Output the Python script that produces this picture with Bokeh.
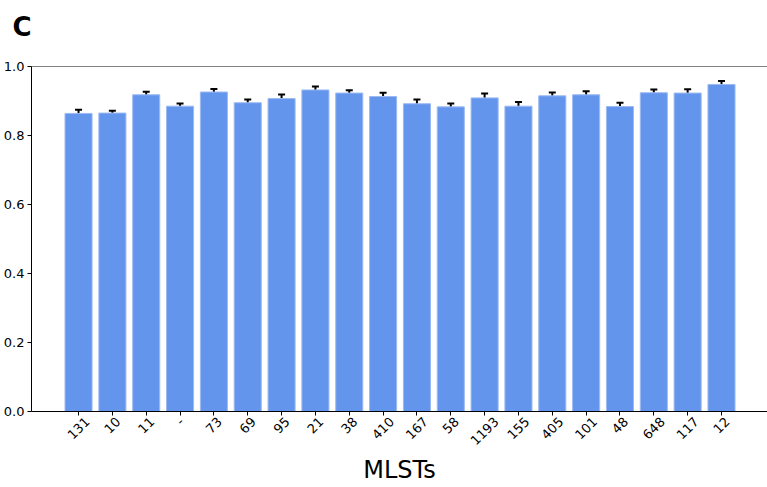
from math import pi
from bokeh.plotting import figure
from bokeh.models import (ColumnDataSource, Range1d, FixedTicker, Whisker, TeeHead,
                          LinearAxis, Title, Span)
from bokeh.embed import file_html
from bokeh.resources import INLINE

mlsts = ["131", "10", "11", "-", "73", "69", "95", "21", "38", "410",
         "167", "58", "1193", "155", "405", "101", "48", "648", "117", "12"]
scores = [0.864, 0.865, 0.918, 0.885, 0.926, 0.895, 0.907, 0.932, 0.923, 0.913,
          0.892, 0.883, 0.909, 0.885, 0.915, 0.918, 0.884, 0.924, 0.923, 0.948]
errors = [0.011, 0.007, 0.009, 0.008, 0.009, 0.009, 0.012, 0.010, 0.008, 0.011,
          0.012, 0.010, 0.013, 0.012, 0.010, 0.010, 0.011, 0.009, 0.011, 0.010]
y_ticks = [0.0, 0.2, 0.4, 0.6, 0.8, 1.0]
panel_letter = "C"
x_title = "MLSTs"

xs = list(range(len(mlsts)))
src = ColumnDataSource(dict(
    x=xs, top=scores,
    upper=[s + e for s, e in zip(scores, errors)],
    lower=[s - e for s, e in zip(scores, errors)],
))

FONT = "DejaVu Sans"
FS = 13
PX_PER_UNIT = 33.84
X0 = -0.4 - 0.05 * (len(xs) - 1 + 0.8)
X1 = X0 + 736 / PX_PER_UNIT

p = figure(width=767, height=487, output_backend="svg", toolbar_location=None,
           title=None, x_axis_location=None,
           x_range=Range1d(X0, X1), y_range=Range1d(0, 1.0),
           min_border_left=31, min_border_right=0, min_border_top=66, min_border_bottom=76)

p.vbar(x="x", top="top", width=0.8, source=src, fill_color="#6495ED",
       line_color="#9db9f2", line_width=1)
p.add_layout(Whisker(source=src, base="x", upper="upper", lower="lower",
                     line_color="black", line_width=2,
                     upper_head=TeeHead(size=7, line_color="black", line_width=2),
                     lower_head=TeeHead(size=7, line_color="black", line_width=2)))
# top spine
p.add_layout(Span(location=1.0, dimension="width", line_color="black", line_width=1.2))

p.xgrid.visible = False
p.ygrid.visible = False
p.outline_line_color = None

# invisible spacer above the frame, so the panel letter sits higher
spacer_axis = LinearAxis(ticker=FixedTicker(ticks=xs),
                         major_label_overrides={i: "" for i in xs},
                         major_label_standoff=0, major_label_text_font_size="1px",
                         axis_line_color=None, major_tick_line_color="white",
                         major_tick_out=22, major_tick_in=0,
                         minor_tick_line_color=None, minor_tick_out=0, minor_tick_in=0)
p.add_layout(spacer_axis, "above")
p.add_layout(Title(text=panel_letter, text_font=FONT, text_font_size="26px",
                   text_font_style="bold", text_color="black", align="left",
                   offset=-19, standoff=6), "above")

# bottom axis: tick marks + axis line, no labels
tick_axis = LinearAxis(ticker=FixedTicker(ticks=xs),
                       major_label_overrides={i: "" for i in xs},
                       major_label_standoff=0, axis_line_color="black",
                       major_tick_line_color="black", major_tick_out=4, major_tick_in=0,
                       minor_tick_line_color=None, minor_tick_out=0, minor_tick_in=0,
                       major_label_text_font=FONT, major_label_text_font_size=f"{FS}px")
p.add_layout(tick_axis, "below")

# label axis: rotated labels, shifted so each rotated label is centred on its tick
shifts = []
for i, m in zip(xs, mlsts):
    w = FS * sum(0.361 if ch == "-" else 0.636 for ch in m)
    shifts.append(round(i + 0.354 * w / PX_PER_UNIT, 3))
lab_axis = LinearAxis(ticker=FixedTicker(ticks=shifts),
                      major_label_overrides={s: m for s, m in zip(shifts, mlsts)},
                      major_label_orientation=pi / 4,
                      axis_line_color=None, major_tick_line_color=None,
                      minor_tick_line_color=None, major_tick_out=0, major_tick_in=0,
                      minor_tick_out=0, minor_tick_in=0,
                      major_label_standoff=4,
                      major_label_text_font=FONT, major_label_text_font_size=f"{FS}px",
                      major_label_text_color="black",
                      axis_label=x_title, axis_label_text_font=FONT,
                      axis_label_text_font_size="24px", axis_label_text_font_style="normal",
                      axis_label_text_color="black", axis_label_standoff=4)
p.add_layout(lab_axis, "below")

yax = p.yaxis[0]
yax.ticker = FixedTicker(ticks=y_ticks)
yax.major_label_overrides = {t: f"{t:.1f}" for t in y_ticks}
yax.major_label_text_font = FONT
yax.major_label_text_font_size = f"{FS}px"
yax.major_label_text_color = "black"
yax.axis_line_color = "black"
yax.major_tick_line_color = "black"
yax.major_tick_out = 4
yax.major_tick_in = 0
yax.minor_tick_line_color = None
yax.major_label_standoff = 3

open("out.html", "w").write(file_html(p, INLINE))
